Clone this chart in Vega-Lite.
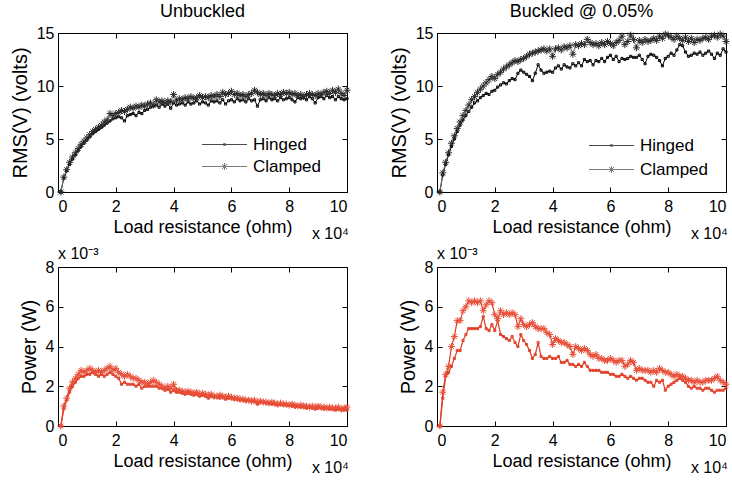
{
"$schema":"https://vega.github.io/schema/vega-lite/v6.json",
"background":"white",
"padding":{"left":9,"top":2,"right":5,"bottom":5},
"config":{
 "font":"Liberation Sans",
 "view":{"stroke":"#000000","strokeWidth":1},
 "axis":{"domain":false,"grid":false,"tickColor":"#000000","tickWidth":1,"tickSize":-5,"labelPadding":4,"labelFont":"Liberation Sans","labelFontSize":16,"labelColor":"#000000","titleFont":"Liberation Sans","titleFontSize":18,"titleFontWeight":"normal","titleColor":"#000000"},
 "axisX":{"titlePadding":4.5,"labelPadding":11},
 "axisY":{"titlePadding":6,"titleFontSize":20,"labelPadding":9},
 "title":{"font":"Liberation Sans","fontSize":18,"fontWeight":"normal","color":"#000000","baseline":"alphabetic","offset":4,"anchor":"middle"}
},
"concat":[
{
 "width":289,"height":159,
 "title":"Unbuckled",
 "data":{"name":"rmsU"},
 "transform":[{"fold":["Hinged","Clamped"],"as":["s","v"]}],
 "resolve":{"axis":{"x":"independent","y":"independent"}},
 "layer":[
  {"mark":{"type":"line","strokeWidth":1},
   "encoding":{
    "x":{"field":"r","type":"quantitative","scale":{"domain":[0,100000],"nice":false},"axis":{"orient":"bottom","values":[0,20000,40000,60000,80000,100000],"labelExpr":"datum.value/10000","title":"Load resistance (ohm)"}},
    "y":{"field":"v","type":"quantitative","scale":{"domain":[0,15],"nice":false},"axis":{"orient":"left","values":[0,5,10,15],"title":"RMS(V) (volts)"}},
    "color":{"field":"s","type":"nominal","scale":{"range":["#6e6e6e","#000000"]},"legend":null}}},
  {"transform":[{"filter":"datum.s === 'Hinged'"}],
   "mark":{"type":"point","filled":false,"size":49,"strokeWidth":1,"opacity":1,"stroke":"#000000","shape":"M-0.3,-0.3L0.3,-0.3L0.3,0.3L-0.3,0.3Z"},
   "encoding":{
    "x":{"field":"r","type":"quantitative","axis":{"orient":"top","labels":false,"title":null,"labelPadding":0,"values":[0,20000,40000,60000,80000,100000]}},
    "y":{"field":"v","type":"quantitative","axis":{"orient":"right","labels":false,"title":null,"labelPadding":0,"values":[0,5,10,15]}}}},
  {"transform":[{"filter":"datum.s === 'Clamped'"}],
   "mark":{"type":"point","filled":false,"size":49,"strokeWidth":1,"opacity":1,"stroke":"#2a2a2a","shape":"M-1,0L1,0M0,-1L0,1M-0.7,-0.7L0.7,0.7M-0.7,0.7L0.7,-0.7"},
   "encoding":{
    "x":{"field":"r","type":"quantitative","axis":null},
    "y":{"field":"v","type":"quantitative","axis":null}}},
  {"data":{"values":[]},
   "mark":{"type":"point","filled":false,"strokeWidth":1},
   "encoding":{
    "shape":{"field":"s","type":"nominal","scale":{"domain":["Hinged","Clamped"],"range":["M-1,0L8,0M3.3,-0.15L3.7,-0.15L3.7,0.15L3.3,0.15Z","M-1,0L8,0M3.5,-0.7L3.5,0.7M2.8,0L4.2,0M3,-0.5L4,0.5M3,0.5L4,-0.5"]},
      "legend":{"orient":"none","legendX":140.5,"legendY":103,"title":null,"symbolSize":100,"symbolStrokeWidth":1,"labelFontSize":17,"labelFont":"Liberation Sans","labelColor":"#000000","labelOffset":37.5,"rowPadding":4,"padding":0}},
    "stroke":{"field":"s","type":"nominal","scale":{"domain":["Hinged","Clamped"],"range":["#000000","#444444"]},
      "legend":{"orient":"none","legendX":140.5,"legendY":103,"title":null,"symbolSize":100,"symbolStrokeWidth":1,"labelFontSize":17,"labelFont":"Liberation Sans","labelColor":"#000000","labelOffset":37.5,"rowPadding":4,"padding":0}}}},
  {"data":{"values":[{}]},
   "mark":{"type":"text","align":"right","baseline":"alphabetic","dy":47,"dx":2,"fontSize":16,"font":"Liberation Sans","color":"#000000"},
   "encoding":{"x":{"datum":100000,"type":"quantitative","axis":null},"y":{"datum":0,"type":"quantitative","axis":null},"text":{"value":"x 10⁴"}}}
 ]
},
{
 "width":289,"height":159,
 "title":"Buckled @ 0.05%",
 "data":{"name":"rmsB"},
 "transform":[{"fold":["Hinged","Clamped"],"as":["s","v"]}],
 "resolve":{"axis":{"x":"independent","y":"independent"}},
 "layer":[
  {"mark":{"type":"line","strokeWidth":1},
   "encoding":{
    "x":{"field":"r","type":"quantitative","scale":{"domain":[0,100000],"nice":false},"axis":{"orient":"bottom","values":[0,20000,40000,60000,80000,100000],"labelExpr":"datum.value/10000","title":"Load resistance (ohm)"}},
    "y":{"field":"v","type":"quantitative","scale":{"domain":[0,15],"nice":false},"axis":{"orient":"left","values":[0,5,10,15],"title":"RMS(V) (volts)"}},
    "color":{"field":"s","type":"nominal","scale":{"range":["#6e6e6e","#000000"]},"legend":null}}},
  {"transform":[{"filter":"datum.s === 'Hinged'"}],
   "mark":{"type":"point","filled":false,"size":49,"strokeWidth":1,"opacity":1,"stroke":"#000000","shape":"M-0.3,-0.3L0.3,-0.3L0.3,0.3L-0.3,0.3Z"},
   "encoding":{
    "x":{"field":"r","type":"quantitative","axis":{"orient":"top","labels":false,"title":null,"labelPadding":0,"values":[0,20000,40000,60000,80000,100000]}},
    "y":{"field":"v","type":"quantitative","axis":{"orient":"right","labels":false,"title":null,"labelPadding":0,"values":[0,5,10,15]}}}},
  {"transform":[{"filter":"datum.s === 'Clamped'"}],
   "mark":{"type":"point","filled":false,"size":49,"strokeWidth":1,"opacity":1,"stroke":"#2a2a2a","shape":"M-1,0L1,0M0,-1L0,1M-0.7,-0.7L0.7,0.7M-0.7,0.7L0.7,-0.7"},
   "encoding":{
    "x":{"field":"r","type":"quantitative","axis":null},
    "y":{"field":"v","type":"quantitative","axis":null}}},
  {"data":{"values":[]},
   "mark":{"type":"point","filled":false,"strokeWidth":1},
   "encoding":{
    "shape":{"field":"s","type":"nominal","scale":{"domain":["Hinged","Clamped"],"range":["M-1,0L8,0M3.3,-0.15L3.7,-0.15L3.7,0.15L3.3,0.15Z","M-1,0L8,0M3.5,-0.7L3.5,0.7M2.8,0L4.2,0M3,-0.5L4,0.5M3,0.5L4,-0.5"]},
      "legend":{"orient":"none","legendX":148.5,"legendY":104,"title":null,"symbolSize":100,"symbolStrokeWidth":1,"labelFontSize":17,"labelFont":"Liberation Sans","labelColor":"#000000","labelOffset":37.5,"rowPadding":6,"padding":0}},
    "stroke":{"field":"s","type":"nominal","scale":{"domain":["Hinged","Clamped"],"range":["#000000","#444444"]},
      "legend":{"orient":"none","legendX":148.5,"legendY":104,"title":null,"symbolSize":100,"symbolStrokeWidth":1,"labelFontSize":17,"labelFont":"Liberation Sans","labelColor":"#000000","labelOffset":37.5,"rowPadding":6,"padding":0}}}},
  {"data":{"values":[{}]},
   "mark":{"type":"text","align":"right","baseline":"alphabetic","dy":47,"dx":2,"fontSize":16,"font":"Liberation Sans","color":"#000000"},
   "encoding":{"x":{"datum":100000,"type":"quantitative","axis":null},"y":{"datum":0,"type":"quantitative","axis":null},"text":{"value":"x 10⁴"}}}
 ]
},
{
 "width":289,"height":159,
 "data":{"name":"powU"},
 "transform":[{"fold":["Hinged","Clamped"],"as":["s","v"]}],
 "resolve":{"axis":{"x":"independent","y":"independent"}},
 "layer":[
  {"mark":{"type":"line","strokeWidth":1.2},
   "encoding":{
    "x":{"field":"r","type":"quantitative","scale":{"domain":[0,100000],"nice":false},"axis":{"orient":"bottom","values":[0,20000,40000,60000,80000,100000],"labelExpr":"datum.value/10000","title":"Load resistance (ohm)"}},
    "y":{"field":"v","type":"quantitative","scale":{"domain":[0,0.008],"nice":false},"axis":{"orient":"left","values":[0,0.002,0.004,0.006,0.008],"labelExpr":"round(datum.value*1000)","title":"Power (W)"}},
    "color":{"field":"s","type":"nominal","scale":{"range":["#e03c24","#e03c24"]},"legend":null}}},
  {"mark":{"type":"point","filled":false,"size":49,"strokeWidth":1,"opacity":1},
   "encoding":{
    "x":{"field":"r","type":"quantitative","axis":{"orient":"top","labels":false,"title":null,"labelPadding":0,"values":[0,20000,40000,60000,80000,100000]}},
    "y":{"field":"v","type":"quantitative","axis":{"orient":"right","labels":false,"title":null,"labelPadding":0,"values":[0,0.002,0.004,0.006,0.008]}},
    "shape":{"field":"s","type":"nominal","scale":{"domain":["Hinged","Clamped"],"range":["M-0.3,-0.3L0.3,-0.3L0.3,0.3L-0.3,0.3Z","M-1,0L1,0M0,-1L0,1M-0.7,-0.7L0.7,0.7M-0.7,0.7L0.7,-0.7"]},"legend":null},
    "stroke":{"field":"s","type":"nominal","scale":{"range":["#e8503a","#e03c24"]},"legend":null}}},
  {"data":{"values":[{}]},
   "mark":{"type":"text","align":"right","baseline":"alphabetic","dy":47,"dx":2,"fontSize":16,"font":"Liberation Sans","color":"#000000"},
   "encoding":{"x":{"datum":100000,"type":"quantitative","axis":null},"y":{"datum":0,"type":"quantitative","axis":null},"text":{"value":"x 10⁴"}}},
  {"data":{"values":[{}]},
   "mark":{"type":"text","align":"left","baseline":"alphabetic","dy":-8,"dx":0,"fontSize":16,"font":"Liberation Sans","color":"#000000"},
   "encoding":{"x":{"datum":0,"type":"quantitative","axis":null},"y":{"datum":0.008,"type":"quantitative","axis":null},"text":{"value":"x 10⁻³"}}}
 ]
},
{
 "width":289,"height":159,
 "data":{"name":"powB"},
 "transform":[{"fold":["Hinged","Clamped"],"as":["s","v"]}],
 "resolve":{"axis":{"x":"independent","y":"independent"}},
 "layer":[
  {"mark":{"type":"line","strokeWidth":1.2},
   "encoding":{
    "x":{"field":"r","type":"quantitative","scale":{"domain":[0,100000],"nice":false},"axis":{"orient":"bottom","values":[0,20000,40000,60000,80000,100000],"labelExpr":"datum.value/10000","title":"Load resistance (ohm)"}},
    "y":{"field":"v","type":"quantitative","scale":{"domain":[0,0.008],"nice":false},"axis":{"orient":"left","values":[0,0.002,0.004,0.006,0.008],"labelExpr":"round(datum.value*1000)","title":"Power (W)"}},
    "color":{"field":"s","type":"nominal","scale":{"range":["#e03c24","#e03c24"]},"legend":null}}},
  {"mark":{"type":"point","filled":false,"size":49,"strokeWidth":1,"opacity":1},
   "encoding":{
    "x":{"field":"r","type":"quantitative","axis":{"orient":"top","labels":false,"title":null,"labelPadding":0,"values":[0,20000,40000,60000,80000,100000]}},
    "y":{"field":"v","type":"quantitative","axis":{"orient":"right","labels":false,"title":null,"labelPadding":0,"values":[0,0.002,0.004,0.006,0.008]}},
    "shape":{"field":"s","type":"nominal","scale":{"domain":["Hinged","Clamped"],"range":["M-0.3,-0.3L0.3,-0.3L0.3,0.3L-0.3,0.3Z","M-1,0L1,0M0,-1L0,1M-0.7,-0.7L0.7,0.7M-0.7,0.7L0.7,-0.7"]},"legend":null},
    "stroke":{"field":"s","type":"nominal","scale":{"range":["#e8503a","#e03c24"]},"legend":null}}},
  {"data":{"values":[{}]},
   "mark":{"type":"text","align":"right","baseline":"alphabetic","dy":47,"dx":2,"fontSize":16,"font":"Liberation Sans","color":"#000000"},
   "encoding":{"x":{"datum":100000,"type":"quantitative","axis":null},"y":{"datum":0,"type":"quantitative","axis":null},"text":{"value":"x 10⁴"}}},
  {"data":{"values":[{}]},
   "mark":{"type":"text","align":"left","baseline":"alphabetic","dy":-8,"dx":0,"fontSize":16,"font":"Liberation Sans","color":"#000000"},
   "encoding":{"x":{"datum":0,"type":"quantitative","axis":null},"y":{"datum":0.008,"type":"quantitative","axis":null},"text":{"value":"x 10⁻³"}}}
 ]
}
],
"columns":2,
"spacing":{"row":75,"column":90},
"bounds":"flush",
"resolve":{"scale":{"shape":"independent","color":"independent","stroke":"independent"},"legend":{"shape":"independent","stroke":"independent"}},
"datasets":{
"rmsU":[
{"r":1000,"Hinged":0,"Clamped":0},{"r":2000,"Hinged":1.3,"Clamped":1.4},{"r":3000,"Hinged":2.0,"Clamped":2.1},{"r":4000,"Hinged":2.6,"Clamped":2.8},{"r":5000,"Hinged":3.1,"Clamped":3.3},{"r":6000,"Hinged":3.5,"Clamped":3.7},{"r":7000,"Hinged":3.9,"Clamped":4.1},{"r":8000,"Hinged":4.3,"Clamped":4.5},{"r":9000,"Hinged":4.6,"Clamped":4.8},{"r":10000,"Hinged":4.9,"Clamped":5.1},
{"r":11000,"Hinged":5.2,"Clamped":5.4},{"r":12000,"Hinged":5.5,"Clamped":5.7},{"r":13000,"Hinged":5.7,"Clamped":5.9},{"r":14000,"Hinged":5.9,"Clamped":6.1},{"r":15000,"Hinged":6.1,"Clamped":6.3},{"r":16000,"Hinged":6.3,"Clamped":6.6},{"r":17000,"Hinged":6.5,"Clamped":6.8},{"r":18000,"Hinged":6.7,"Clamped":7.4},{"r":19000,"Hinged":6.9,"Clamped":7.2},{"r":20000,"Hinged":7.0,"Clamped":7.4},
{"r":21000,"Hinged":7.1,"Clamped":7.5},{"r":22000,"Hinged":7.0,"Clamped":7.7},{"r":23000,"Hinged":6.7,"Clamped":7.6},{"r":24000,"Hinged":7.2,"Clamped":7.8},{"r":25000,"Hinged":7.3,"Clamped":8.0},{"r":26000,"Hinged":7.4,"Clamped":7.9},{"r":27000,"Hinged":7.2,"Clamped":8.1},{"r":28000,"Hinged":7.5,"Clamped":8.0},{"r":29000,"Hinged":7.4,"Clamped":8.2},{"r":30000,"Hinged":7.7,"Clamped":8.1},
{"r":31000,"Hinged":7.8,"Clamped":8.3},{"r":32000,"Hinged":8.0,"Clamped":8.4},{"r":33000,"Hinged":8.1,"Clamped":8.2},{"r":34000,"Hinged":8.2,"Clamped":8.7},{"r":35000,"Hinged":8.0,"Clamped":8.5},{"r":36000,"Hinged":8.3,"Clamped":8.6},{"r":37000,"Hinged":8.1,"Clamped":8.4},{"r":38000,"Hinged":8.3,"Clamped":8.6},{"r":39000,"Hinged":7.9,"Clamped":8.5},{"r":40000,"Hinged":8.4,"Clamped":9.2},
{"r":41000,"Hinged":8.2,"Clamped":8.6},{"r":42000,"Hinged":8.3,"Clamped":8.8},{"r":43000,"Hinged":8.4,"Clamped":8.7},{"r":44000,"Hinged":8.2,"Clamped":8.9},{"r":45000,"Hinged":8.5,"Clamped":8.8},{"r":46000,"Hinged":8.3,"Clamped":9.0},{"r":47000,"Hinged":8.4,"Clamped":8.8},{"r":48000,"Hinged":8.6,"Clamped":8.9},{"r":49000,"Hinged":8.3,"Clamped":9.1},{"r":50000,"Hinged":8.5,"Clamped":8.9},
{"r":51000,"Hinged":8.4,"Clamped":9.0},{"r":52000,"Hinged":8.2,"Clamped":8.9},{"r":53000,"Hinged":8.6,"Clamped":9.1},{"r":54000,"Hinged":8.5,"Clamped":9.0},{"r":55000,"Hinged":8.6,"Clamped":9.2},{"r":56000,"Hinged":8.4,"Clamped":9.0},{"r":57000,"Hinged":8.7,"Clamped":9.4},{"r":58000,"Hinged":8.3,"Clamped":9.2},{"r":59000,"Hinged":8.6,"Clamped":9.3},{"r":60000,"Hinged":8.7,"Clamped":9.5},
{"r":61000,"Hinged":8.5,"Clamped":9.2},{"r":62000,"Hinged":8.8,"Clamped":9.3},{"r":63000,"Hinged":8.6,"Clamped":9.1},{"r":64000,"Hinged":8.7,"Clamped":9.2},{"r":65000,"Hinged":8.5,"Clamped":9.0},{"r":66000,"Hinged":8.8,"Clamped":9.2},{"r":67000,"Hinged":8.6,"Clamped":9.3},{"r":68000,"Hinged":8.7,"Clamped":9.6},{"r":69000,"Hinged":8.1,"Clamped":9.4},{"r":70000,"Hinged":8.7,"Clamped":9.2},
{"r":71000,"Hinged":8.8,"Clamped":9.3},{"r":72000,"Hinged":8.6,"Clamped":9.1},{"r":73000,"Hinged":8.9,"Clamped":9.3},{"r":74000,"Hinged":8.7,"Clamped":9.2},{"r":75000,"Hinged":8.8,"Clamped":9.1},{"r":76000,"Hinged":8.6,"Clamped":9.3},{"r":77000,"Hinged":8.9,"Clamped":9.2},{"r":78000,"Hinged":8.7,"Clamped":9.4},{"r":79000,"Hinged":8.8,"Clamped":9.3},{"r":80000,"Hinged":8.9,"Clamped":9.4},
{"r":81000,"Hinged":8.7,"Clamped":9.2},{"r":82000,"Hinged":8.5,"Clamped":9.3},{"r":83000,"Hinged":8.9,"Clamped":9.1},{"r":84000,"Hinged":8.8,"Clamped":9.2},{"r":85000,"Hinged":8.9,"Clamped":9.0},{"r":86000,"Hinged":8.7,"Clamped":9.2},{"r":87000,"Hinged":9.0,"Clamped":9.3},{"r":88000,"Hinged":8.8,"Clamped":9.2},{"r":89000,"Hinged":8.4,"Clamped":9.1},{"r":90000,"Hinged":8.9,"Clamped":9.3},
{"r":91000,"Hinged":9.0,"Clamped":9.2},{"r":92000,"Hinged":8.8,"Clamped":9.4},{"r":93000,"Hinged":9.1,"Clamped":9.5},{"r":94000,"Hinged":8.9,"Clamped":9.3},{"r":95000,"Hinged":9.0,"Clamped":9.6},{"r":96000,"Hinged":8.7,"Clamped":9.4},{"r":97000,"Hinged":9.0,"Clamped":9.7},{"r":98000,"Hinged":8.8,"Clamped":9.3},{"r":99000,"Hinged":8.7,"Clamped":9.1},{"r":100000,"Hinged":8.8,"Clamped":9.6}
],
"rmsB":[
{"r":1000,"Hinged":0,"Clamped":0},{"r":2000,"Hinged":1.6,"Clamped":1.8},{"r":3000,"Hinged":2.6,"Clamped":2.8},{"r":4000,"Hinged":3.5,"Clamped":3.7},{"r":5000,"Hinged":4.3,"Clamped":4.6},{"r":6000,"Hinged":5.0,"Clamped":5.3},{"r":7000,"Hinged":5.7,"Clamped":6.0},{"r":8000,"Hinged":6.3,"Clamped":6.6},{"r":9000,"Hinged":6.8,"Clamped":7.2},{"r":10000,"Hinged":7.2,"Clamped":7.7},
{"r":11000,"Hinged":7.6,"Clamped":8.2},{"r":12000,"Hinged":8.0,"Clamped":8.7},{"r":13000,"Hinged":8.4,"Clamped":9.0},{"r":14000,"Hinged":8.6,"Clamped":9.4},{"r":15000,"Hinged":8.9,"Clamped":9.7},{"r":16000,"Hinged":9.1,"Clamped":10.0},{"r":17000,"Hinged":9.3,"Clamped":10.3},{"r":18000,"Hinged":9.2,"Clamped":10.6},{"r":19000,"Hinged":9.5,"Clamped":10.9},{"r":20000,"Hinged":9.6,"Clamped":10.7},
{"r":21000,"Hinged":9.9,"Clamped":11.1},{"r":22000,"Hinged":10.1,"Clamped":11.3},{"r":23000,"Hinged":10.3,"Clamped":11.6},{"r":24000,"Hinged":10.2,"Clamped":11.8},{"r":25000,"Hinged":10.5,"Clamped":12.0},{"r":26000,"Hinged":10.7,"Clamped":12.2},{"r":27000,"Hinged":10.6,"Clamped":12.4},{"r":28000,"Hinged":11.2,"Clamped":12.3},{"r":29000,"Hinged":11.5,"Clamped":12.5},{"r":30000,"Hinged":11.3,"Clamped":12.6},
{"r":31000,"Hinged":11.1,"Clamped":12.8},{"r":32000,"Hinged":10.9,"Clamped":13.0},{"r":33000,"Hinged":10.5,"Clamped":13.1},{"r":34000,"Hinged":11.2,"Clamped":13.2},{"r":35000,"Hinged":12.0,"Clamped":13.3},{"r":36000,"Hinged":11.5,"Clamped":13.4},{"r":37000,"Hinged":11.2,"Clamped":13.5},{"r":38000,"Hinged":11.3,"Clamped":13.3},{"r":39000,"Hinged":11.4,"Clamped":13.5},{"r":40000,"Hinged":11.3,"Clamped":12.8},
{"r":41000,"Hinged":11.7,"Clamped":13.5},{"r":42000,"Hinged":11.9,"Clamped":13.6},{"r":43000,"Hinged":11.6,"Clamped":13.4},{"r":44000,"Hinged":12.0,"Clamped":13.7},{"r":45000,"Hinged":11.8,"Clamped":13.6},{"r":46000,"Hinged":11.7,"Clamped":13.8},{"r":47000,"Hinged":12.1,"Clamped":13.0},{"r":48000,"Hinged":11.9,"Clamped":13.9},{"r":49000,"Hinged":12.2,"Clamped":13.8},{"r":50000,"Hinged":11.9,"Clamped":14.0},
{"r":51000,"Hinged":12.5,"Clamped":13.9},{"r":52000,"Hinged":12.3,"Clamped":14.4},{"r":53000,"Hinged":12.4,"Clamped":14.1},{"r":54000,"Hinged":12.0,"Clamped":13.9},{"r":55000,"Hinged":12.4,"Clamped":14.0},{"r":56000,"Hinged":12.3,"Clamped":13.8},{"r":57000,"Hinged":12.6,"Clamped":14.1},{"r":58000,"Hinged":12.3,"Clamped":13.9},{"r":59000,"Hinged":12.7,"Clamped":14.2},{"r":60000,"Hinged":12.9,"Clamped":14.0},
{"r":61000,"Hinged":12.5,"Clamped":13.8},{"r":62000,"Hinged":12.8,"Clamped":14.1},{"r":63000,"Hinged":12.3,"Clamped":14.3},{"r":64000,"Hinged":12.6,"Clamped":14.7},{"r":65000,"Hinged":12.5,"Clamped":13.9},{"r":66000,"Hinged":12.6,"Clamped":14.2},{"r":67000,"Hinged":12.8,"Clamped":14.8},{"r":68000,"Hinged":12.7,"Clamped":14.4},{"r":69000,"Hinged":12.7,"Clamped":13.6},{"r":70000,"Hinged":12.9,"Clamped":14.3},
{"r":71000,"Hinged":12.5,"Clamped":14.1},{"r":72000,"Hinged":12.1,"Clamped":14.4},{"r":73000,"Hinged":12.8,"Clamped":14.2},{"r":74000,"Hinged":13.0,"Clamped":14.3},{"r":75000,"Hinged":12.9,"Clamped":14.5},{"r":76000,"Hinged":12.7,"Clamped":14.3},{"r":77000,"Hinged":12.4,"Clamped":14.7},{"r":78000,"Hinged":11.9,"Clamped":14.5},{"r":79000,"Hinged":12.6,"Clamped":14.9},{"r":80000,"Hinged":12.8,"Clamped":14.8},
{"r":81000,"Hinged":13.1,"Clamped":14.6},{"r":82000,"Hinged":12.9,"Clamped":14.4},{"r":83000,"Hinged":13.4,"Clamped":14.7},{"r":84000,"Hinged":13.9,"Clamped":14.5},{"r":85000,"Hinged":13.8,"Clamped":14.3},{"r":86000,"Hinged":13.2,"Clamped":14.6},{"r":87000,"Hinged":12.8,"Clamped":14.2},{"r":88000,"Hinged":12.9,"Clamped":14.5},{"r":89000,"Hinged":13.1,"Clamped":14.1},{"r":90000,"Hinged":13.0,"Clamped":14.4},
{"r":91000,"Hinged":13.2,"Clamped":14.3},{"r":92000,"Hinged":12.9,"Clamped":14.5},{"r":93000,"Hinged":13.1,"Clamped":14.6},{"r":94000,"Hinged":13.3,"Clamped":14.4},{"r":95000,"Hinged":13.0,"Clamped":14.7},{"r":96000,"Hinged":12.6,"Clamped":14.8},{"r":97000,"Hinged":13.1,"Clamped":14.6},{"r":98000,"Hinged":12.9,"Clamped":14.9},{"r":99000,"Hinged":13.5,"Clamped":14.7},{"r":100000,"Hinged":13.2,"Clamped":14.2}
],
"powU":[
{"r":1000,"Hinged":0,"Clamped":0},{"r":2000,"Hinged":0.00085,"Clamped":0.001},{"r":3000,"Hinged":0.0013,"Clamped":0.0014},{"r":4000,"Hinged":0.0017,"Clamped":0.0019},{"r":5000,"Hinged":0.002,"Clamped":0.0022},{"r":6000,"Hinged":0.0022,"Clamped":0.0024},{"r":7000,"Hinged":0.0024,"Clamped":0.0026},{"r":8000,"Hinged":0.0025,"Clamped":0.0028},{"r":9000,"Hinged":0.0025,"Clamped":0.0027},{"r":10000,"Hinged":0.0026,"Clamped":0.0028},
{"r":11000,"Hinged":0.0026,"Clamped":0.0029},{"r":12000,"Hinged":0.0027,"Clamped":0.0028},{"r":13000,"Hinged":0.0026,"Clamped":0.0027},{"r":14000,"Hinged":0.0025,"Clamped":0.0028},{"r":15000,"Hinged":0.0026,"Clamped":0.0027},{"r":16000,"Hinged":0.0025,"Clamped":0.0028},{"r":17000,"Hinged":0.0026,"Clamped":0.0029},{"r":18000,"Hinged":0.0027,"Clamped":0.003},{"r":19000,"Hinged":0.0026,"Clamped":0.0028},{"r":20000,"Hinged":0.0025,"Clamped":0.0029},
{"r":21000,"Hinged":0.0024,"Clamped":0.0027},{"r":22000,"Hinged":0.0021,"Clamped":0.0026},{"r":23000,"Hinged":0.0022,"Clamped":0.0025},{"r":24000,"Hinged":0.0021,"Clamped":0.0026},{"r":25000,"Hinged":0.0021,"Clamped":0.0025},{"r":26000,"Hinged":0.0021,"Clamped":0.0024},{"r":27000,"Hinged":0.002,"Clamped":0.0024},{"r":28000,"Hinged":0.0021,"Clamped":0.0023},{"r":29000,"Hinged":0.0019,"Clamped":0.0022},{"r":30000,"Hinged":0.002,"Clamped":0.0022},
{"r":31000,"Hinged":0.002,"Clamped":0.0021},{"r":32000,"Hinged":0.002,"Clamped":0.0022},{"r":33000,"Hinged":0.002,"Clamped":0.0023},{"r":34000,"Hinged":0.002,"Clamped":0.0022},{"r":35000,"Hinged":0.0019,"Clamped":0.0021},{"r":36000,"Hinged":0.0019,"Clamped":0.002},{"r":37000,"Hinged":0.0018,"Clamped":0.0019},{"r":38000,"Hinged":0.00185,"Clamped":0.002},{"r":39000,"Hinged":0.0017,"Clamped":0.0019},{"r":40000,"Hinged":0.0018,"Clamped":0.0021},
{"r":41000,"Hinged":0.0017,"Clamped":0.0018},{"r":42000,"Hinged":0.0017,"Clamped":0.0018},{"r":43000,"Hinged":0.00165,"Clamped":0.00175},{"r":44000,"Hinged":0.0016,"Clamped":0.0017},{"r":45000,"Hinged":0.00165,"Clamped":0.00175},{"r":46000,"Hinged":0.0016,"Clamped":0.0017},{"r":47000,"Hinged":0.00155,"Clamped":0.00165},{"r":48000,"Hinged":0.0016,"Clamped":0.0017},{"r":49000,"Hinged":0.0015,"Clamped":0.0016},{"r":50000,"Hinged":0.00155,"Clamped":0.00165},
{"r":51000,"Hinged":0.0015,"Clamped":0.0016},{"r":52000,"Hinged":0.0014,"Clamped":0.00155},{"r":53000,"Hinged":0.0015,"Clamped":0.0016},{"r":54000,"Hinged":0.00145,"Clamped":0.0015},{"r":55000,"Hinged":0.00145,"Clamped":0.0015},{"r":56000,"Hinged":0.0014,"Clamped":0.00155},{"r":57000,"Hinged":0.00145,"Clamped":0.0015},{"r":58000,"Hinged":0.00135,"Clamped":0.00145},{"r":59000,"Hinged":0.0014,"Clamped":0.0015},{"r":60000,"Hinged":0.0014,"Clamped":0.00145},
{"r":61000,"Hinged":0.00135,"Clamped":0.0014},{"r":62000,"Hinged":0.00135,"Clamped":0.0014},{"r":63000,"Hinged":0.0013,"Clamped":0.00135},{"r":64000,"Hinged":0.0013,"Clamped":0.00135},{"r":65000,"Hinged":0.00125,"Clamped":0.0013},{"r":66000,"Hinged":0.0013,"Clamped":0.0013},{"r":67000,"Hinged":0.00125,"Clamped":0.00125},{"r":68000,"Hinged":0.00125,"Clamped":0.0013},{"r":69000,"Hinged":0.0011,"Clamped":0.0012},{"r":70000,"Hinged":0.0012,"Clamped":0.00125},
{"r":71000,"Hinged":0.0012,"Clamped":0.0012},{"r":72000,"Hinged":0.00115,"Clamped":0.0012},{"r":73000,"Hinged":0.00115,"Clamped":0.00115},{"r":74000,"Hinged":0.0011,"Clamped":0.0012},{"r":75000,"Hinged":0.0011,"Clamped":0.00115},{"r":76000,"Hinged":0.00105,"Clamped":0.0011},{"r":77000,"Hinged":0.0011,"Clamped":0.00115},{"r":78000,"Hinged":0.00105,"Clamped":0.0011},{"r":79000,"Hinged":0.00105,"Clamped":0.0011},{"r":80000,"Hinged":0.00105,"Clamped":0.00105},
{"r":81000,"Hinged":0.001,"Clamped":0.0011},{"r":82000,"Hinged":0.00095,"Clamped":0.00105},{"r":83000,"Hinged":0.001,"Clamped":0.001},{"r":84000,"Hinged":0.00095,"Clamped":0.00105},{"r":85000,"Hinged":0.00095,"Clamped":0.001},{"r":86000,"Hinged":0.0009,"Clamped":0.001},{"r":87000,"Hinged":0.00095,"Clamped":0.00095},{"r":88000,"Hinged":0.0009,"Clamped":0.001},{"r":89000,"Hinged":0.00085,"Clamped":0.00095},{"r":90000,"Hinged":0.0009,"Clamped":0.001},
{"r":91000,"Hinged":0.0009,"Clamped":0.00095},{"r":92000,"Hinged":0.00085,"Clamped":0.00095},{"r":93000,"Hinged":0.0009,"Clamped":0.0009},{"r":94000,"Hinged":0.00085,"Clamped":0.00095},{"r":95000,"Hinged":0.00085,"Clamped":0.0009},{"r":96000,"Hinged":0.0008,"Clamped":0.0009},{"r":97000,"Hinged":0.00085,"Clamped":0.00095},{"r":98000,"Hinged":0.0008,"Clamped":0.00085},{"r":99000,"Hinged":0.0008,"Clamped":0.0009},{"r":100000,"Hinged":0.0008,"Clamped":0.00095}
],
"powB":[
{"r":1000,"Hinged":0,"Clamped":0},{"r":2000,"Hinged":0.0014,"Clamped":0.0017},{"r":3000,"Hinged":0.0025,"Clamped":0.0026},{"r":4000,"Hinged":0.0027,"Clamped":0.003},{"r":5000,"Hinged":0.003,"Clamped":0.004},{"r":6000,"Hinged":0.0034,"Clamped":0.0045},{"r":7000,"Hinged":0.0038,"Clamped":0.0053},{"r":8000,"Hinged":0.0038,"Clamped":0.0053},{"r":9000,"Hinged":0.0043,"Clamped":0.0058},{"r":10000,"Hinged":0.0046,"Clamped":0.006},
{"r":11000,"Hinged":0.0049,"Clamped":0.0063},{"r":12000,"Hinged":0.0049,"Clamped":0.0062},{"r":13000,"Hinged":0.0049,"Clamped":0.0063},{"r":14000,"Hinged":0.0049,"Clamped":0.0062},{"r":15000,"Hinged":0.005,"Clamped":0.0063},{"r":16000,"Hinged":0.0055,"Clamped":0.0058},{"r":17000,"Hinged":0.0049,"Clamped":0.0061},{"r":18000,"Hinged":0.0048,"Clamped":0.0063},{"r":19000,"Hinged":0.0051,"Clamped":0.0062},{"r":20000,"Hinged":0.0048,"Clamped":0.0056},
{"r":21000,"Hinged":0.0053,"Clamped":0.0054},{"r":22000,"Hinged":0.0046,"Clamped":0.0058},{"r":23000,"Hinged":0.0045,"Clamped":0.0056},{"r":24000,"Hinged":0.0044,"Clamped":0.0057},{"r":25000,"Hinged":0.0043,"Clamped":0.0056},{"r":26000,"Hinged":0.0045,"Clamped":0.0057},{"r":27000,"Hinged":0.0042,"Clamped":0.0056},{"r":28000,"Hinged":0.004,"Clamped":0.005},{"r":29000,"Hinged":0.0046,"Clamped":0.0054},{"r":30000,"Hinged":0.0043,"Clamped":0.0051},
{"r":31000,"Hinged":0.0041,"Clamped":0.005},{"r":32000,"Hinged":0.0038,"Clamped":0.0051},{"r":33000,"Hinged":0.0034,"Clamped":0.0052},{"r":34000,"Hinged":0.0036,"Clamped":0.005},{"r":35000,"Hinged":0.0042,"Clamped":0.0049},{"r":36000,"Hinged":0.0035,"Clamped":0.0049},{"r":37000,"Hinged":0.0034,"Clamped":0.0049},{"r":38000,"Hinged":0.0034,"Clamped":0.0047},{"r":39000,"Hinged":0.0035,"Clamped":0.0046},{"r":40000,"Hinged":0.0034,"Clamped":0.0041},
{"r":41000,"Hinged":0.0034,"Clamped":0.0044},{"r":42000,"Hinged":0.0035,"Clamped":0.0043},{"r":43000,"Hinged":0.0032,"Clamped":0.0042},{"r":44000,"Hinged":0.0032,"Clamped":0.0042},{"r":45000,"Hinged":0.0033,"Clamped":0.0041},{"r":46000,"Hinged":0.0031,"Clamped":0.004},{"r":47000,"Hinged":0.0031,"Clamped":0.0036},{"r":48000,"Hinged":0.003,"Clamped":0.004},{"r":49000,"Hinged":0.0031,"Clamped":0.0039},{"r":50000,"Hinged":0.003,"Clamped":0.0038},
{"r":51000,"Hinged":0.0032,"Clamped":0.0039},{"r":52000,"Hinged":0.003,"Clamped":0.0038},{"r":53000,"Hinged":0.0028,"Clamped":0.0036},{"r":54000,"Hinged":0.0028,"Clamped":0.0035},{"r":55000,"Hinged":0.0028,"Clamped":0.0036},{"r":56000,"Hinged":0.0028,"Clamped":0.0034},{"r":57000,"Hinged":0.0027,"Clamped":0.0034},{"r":58000,"Hinged":0.0027,"Clamped":0.0033},{"r":59000,"Hinged":0.0027,"Clamped":0.0033},{"r":60000,"Hinged":0.0026,"Clamped":0.0034},
{"r":61000,"Hinged":0.0026,"Clamped":0.0033},{"r":62000,"Hinged":0.0025,"Clamped":0.0032},{"r":63000,"Hinged":0.0025,"Clamped":0.0033},{"r":64000,"Hinged":0.0026,"Clamped":0.0033},{"r":65000,"Hinged":0.0025,"Clamped":0.003},{"r":66000,"Hinged":0.0024,"Clamped":0.0031},{"r":67000,"Hinged":0.0025,"Clamped":0.0033},{"r":68000,"Hinged":0.0024,"Clamped":0.0032},{"r":69000,"Hinged":0.0023,"Clamped":0.0028},{"r":70000,"Hinged":0.0024,"Clamped":0.0029},
{"r":71000,"Hinged":0.0024,"Clamped":0.0028},{"r":72000,"Hinged":0.0023,"Clamped":0.0028},{"r":73000,"Hinged":0.0022,"Clamped":0.0028},{"r":74000,"Hinged":0.0022,"Clamped":0.0027},{"r":75000,"Hinged":0.002,"Clamped":0.0028},{"r":76000,"Hinged":0.0023,"Clamped":0.0027},{"r":77000,"Hinged":0.0022,"Clamped":0.0029},{"r":78000,"Hinged":0.0023,"Clamped":0.0028},{"r":79000,"Hinged":0.0018,"Clamped":0.0027},{"r":80000,"Hinged":0.002,"Clamped":0.0027},
{"r":81000,"Hinged":0.0021,"Clamped":0.0026},{"r":82000,"Hinged":0.0022,"Clamped":0.0025},{"r":83000,"Hinged":0.0023,"Clamped":0.0026},{"r":84000,"Hinged":0.0024,"Clamped":0.0025},{"r":85000,"Hinged":0.0023,"Clamped":0.0025},{"r":86000,"Hinged":0.0022,"Clamped":0.0024},{"r":87000,"Hinged":0.002,"Clamped":0.0023},{"r":88000,"Hinged":0.0019,"Clamped":0.0023},{"r":89000,"Hinged":0.002,"Clamped":0.0022},{"r":90000,"Hinged":0.0019,"Clamped":0.0023},
{"r":91000,"Hinged":0.0019,"Clamped":0.0022},{"r":92000,"Hinged":0.0018,"Clamped":0.0022},{"r":93000,"Hinged":0.0019,"Clamped":0.0023},{"r":94000,"Hinged":0.0019,"Clamped":0.0023},{"r":95000,"Hinged":0.0018,"Clamped":0.0023},{"r":96000,"Hinged":0.0017,"Clamped":0.0024},{"r":97000,"Hinged":0.0018,"Clamped":0.0025},{"r":98000,"Hinged":0.0018,"Clamped":0.0023},{"r":99000,"Hinged":0.0018,"Clamped":0.0022},{"r":100000,"Hinged":0.0019,"Clamped":0.0021}
]
}
}
